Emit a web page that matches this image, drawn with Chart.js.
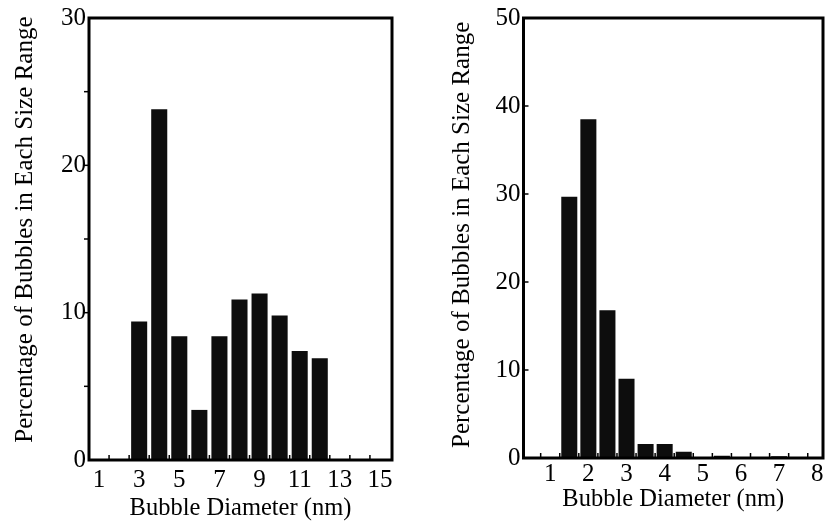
<!DOCTYPE html>
<html>
<head>
<meta charset="utf-8">
<script src="https://cdn.jsdelivr.net/npm/chart.js@4.4.0/dist/chart.umd.min.js"></script>
<style>
  body { margin: 0; background: #fff; }
  .panel { position: absolute; top: 0; height: 523px; }
  #leftPanel { left: 0; width: 440px; }
  #rightPanel { left: 440px; width: 385px; }
</style>
</head>
<body>
<div class="panel" id="leftPanel"><canvas id="leftChart"></canvas></div>
<div class="panel" id="rightPanel"><canvas id="rightChart"></canvas></div>
<script>
// Left panel: bubble size distribution, 1 nm bins
const leftDiameters = [1, 2, 3, 4, 5, 6, 7, 8, 9, 10, 11, 12, 13, 14, 15];
const leftPercent = [0, 0, 9.4, 23.8, 8.4, 3.4, 8.4, 10.9, 11.3, 9.8, 7.4, 6.9, 0, 0, 0];
const leftXLabels = [1, 3, 5, 7, 9, 11, 13, 15];
const leftXMarks = [1.5, 2.5, 3.5, 4.5, 5.5, 6.5, 7.5, 8.5, 9.5, 10.5, 11.5, 12.5, 13.5, 14.5];
const leftYLabels = [0, 10, 20, 30];
const leftYMarks = [5, 10, 15, 20, 25];

// Right panel: 0.5 nm bins
const rightDiameters = [1.5, 2, 2.5, 3, 3.5, 4, 4.5, 5, 5.5, 6, 6.5, 7];
const rightPercent = [29.7, 38.5, 16.8, 9.0, 1.6, 1.6, 0.7, 0, 0.25, 0, 0, 0.2];
const rightXLabels = [1, 2, 3, 4, 5, 6, 7, 8];
const rightXMarks = [0.75, 1.25, 1.75, 2.25, 2.75, 3.25, 3.75, 4.25, 4.75, 5.25, 5.75, 6.25, 6.75, 7.25, 7.75];
const rightYLabels = [0, 10, 20, 30, 40, 50];
const rightYMarks = [10, 20, 30, 40];

const serif = 'Liberation Serif';
const yTitle = 'Percentage of Bubbles in Each Size Range';
const xTitle = 'Bubble Diameter (nm)';

// box around the plot plus the small tick marks
const framePlugin = {
    id: 'frame',
    afterDraw(chart, args, opts) {
        const ctx = chart.ctx;
        const a = chart.chartArea;
        const xs = chart.scales.x;
        const ys = chart.scales.y;
        ctx.save();
        ctx.strokeStyle = '#000';
        ctx.lineWidth = 1.5;
        opts.xMarks.forEach(v => {
            const px = xs.getPixelForValue(v);
            ctx.beginPath();
            ctx.moveTo(px, a.bottom);
            ctx.lineTo(px, a.bottom - 5);
            ctx.stroke();
        });
        opts.yMarks.forEach(v => {
            const py = ys.getPixelForValue(v);
            ctx.beginPath();
            ctx.moveTo(a.left, py);
            ctx.lineTo(a.left + opts.yDir * 5, py);
            ctx.stroke();
        });
        ctx.lineWidth = 3;
        ctx.strokeRect(a.left, a.top, a.right - a.left, a.bottom - a.top);
        ctx.restore();
    }
};

function makeChart(id, c) {
    return new Chart(document.getElementById(id), {
        type: 'bar',
        data: {
            datasets: [{
                data: c.x.map((x, i) => ({ x: x, y: c.y[i] })),
                backgroundColor: '#0d0d0d',
                borderWidth: 0,
                barPercentage: c.barPct,
                categoryPercentage: 1
            }]
        },
        options: {
            responsive: true,
            maintainAspectRatio: false,
            animation: false,
            layout: {
                padding: { top: c.top, right: c.right, bottom: 0, left: 0 }
            },
            plugins: {
                legend: { display: false },
                tooltip: { enabled: false },
                frame: { xMarks: c.xMarks, yMarks: c.yMarks, yDir: c.yDir }
            },
            scales: {
                x: {
                    type: 'linear',
                    min: c.xMin,
                    max: c.xMax,
                    offset: false,
                    grid: { display: false, drawTicks: false },
                    border: { display: false },
                    afterBuildTicks: s => { s.ticks = c.xLabels.map(v => ({ value: v })); },
                    afterFit: s => { s.height = c.xHeight; },
                    ticks: {
                        color: '#000',
                        font: { family: serif, size: 25 },
                        padding: c.xPad,
                        maxRotation: 0,
                        autoSkip: false
                    },
                    title: {
                        display: true,
                        text: xTitle,
                        color: '#000',
                        font: { family: serif, size: 24.5 },
                        padding: { top: 0, bottom: c.xTitlePad }
                    }
                },
                y: {
                    min: 0,
                    max: c.yMax,
                    grid: { display: false, drawTicks: false },
                    border: { display: false },
                    afterBuildTicks: s => { s.ticks = c.yLabels.map(v => ({ value: v })); },
                    afterFit: s => { s.width = c.yWidth; },
                    ticks: {
                        color: '#000',
                        font: { family: serif, size: 25 },
                        padding: 3
                    },
                    title: {
                        display: true,
                        text: c.yTitleText,
                        color: '#000',
                        font: { family: serif, size: 25 },
                        padding: { top: c.yTitlePad, bottom: 0 }
                    }
                }
            }
        },
        plugins: [framePlugin]
    });
}

makeChart('leftChart', {
    x: leftDiameters, y: leftPercent,
    xLabels: leftXLabels, xMarks: leftXMarks,
    yLabels: leftYLabels, yMarks: leftYMarks, yDir: -1,
    xMin: 0.5, xMax: 15.6, yMax: 30, barPct: 0.8,
    top: 17, right: 48, xHeight: 63, yWidth: 89,
    xPad: 5, xTitlePad: 0, yTitlePad: 10,
    yTitleText: '   ' + yTitle
});

makeChart('rightChart', {
    x: rightDiameters, y: rightPercent,
    xLabels: rightXLabels, xMarks: rightXMarks,
    yLabels: rightYLabels, yMarks: rightYMarks, yDir: 1,
    xMin: 0.3, xMax: 8.15, yMax: 50, barPct: 0.84,
    top: 15, right: 2, xHeight: 65, yWidth: 83.5,
    xPad: 1, xTitlePad: 9, yTitlePad: 7,
    yTitleText: ' ' + yTitle
});
</script>
</body>
</html>
